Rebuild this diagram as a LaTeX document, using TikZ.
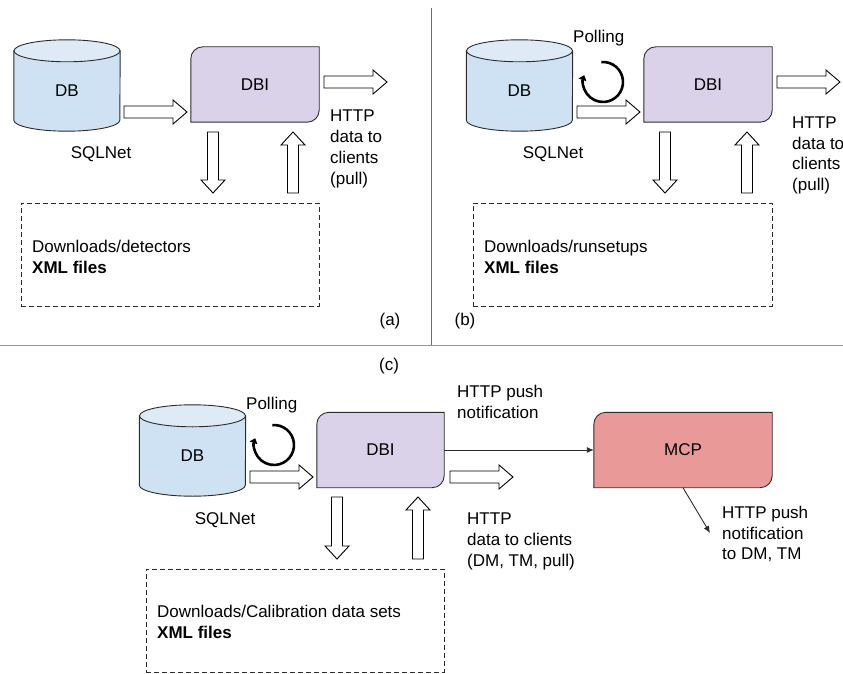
\documentclass[tikz,border=0pt]{standalone}
\usepackage{fontspec}
\setmainfont{Liberation Sans}
\usetikzlibrary{calc,backgrounds,arrows.meta}
\definecolor{cyltop}{HTML}{DEEBF7}
\definecolor{cylbody}{HTML}{CFE2F3}
\definecolor{dbifill}{HTML}{D9D2E9}
\definecolor{mcpfill}{HTML}{EA9999}
\definecolor{outl}{HTML}{2B2B2B}
\definecolor{vsep}{HTML}{5470A0}
\definecolor{hsep}{HTML}{7D9CCC}
\tikzset{
  txt/.style={font=\fontsize{17}{20.8}\selectfont, inner sep=0pt},
  blk/.style={txt, align=left, anchor=north west},
  cylnode/.style={txt, minimum width=106pt, minimum height=80pt},
  boxnode/.style={txt, minimum width=128pt, minimum height=75pt},
  dashbox/.style={draw=outl, line width=0.9pt, dash pattern=on 5pt off 3pt, inner sep=0pt, minimum height=103pt},
  fatarrow/.style={draw=black, fill=white, line width=0.9pt, line join=miter},
  thin/.style={draw=outl, line width=0.9pt, -{Latex[length=7pt,width=6pt]}},
  pollarrow/.style={draw=black, line width=2.6pt, -{Triangle[length=5pt,width=8pt]}},
}
\newcommand\cylshape[1]{%
  \begin{pgfonlayer}{background}
  \path[draw=outl, line width=0.9pt, fill=cylbody] (#1.north west) -- ($(#1.south west)+(0,-11)$)
     arc[start angle=180, end angle=0, x radius=53, y radius=11] -- (#1.north east) -- cycle;
  \path[draw=outl, line width=0.9pt, fill=cyltop] (#1.north) ellipse [x radius=53, y radius=11];
  \end{pgfonlayer}}
\newcommand\rbox[2]{%
  \begin{pgfonlayer}{background}
  \path[draw=outl, line width=0.9pt, fill=#2] (#1.south west) -- ($(#1.north west)+(0,12)$)
     .. controls ($(#1.north west)+(0,5.4)$) and ($(#1.north west)+(5.4,0)$) .. ($(#1.north west)+(12,0)$)
     -- (#1.north east) -- ($(#1.south east)+(0,-12)$)
     .. controls ($(#1.south east)+(0,-5.4)$) and ($(#1.south east)+(-5.4,0)$) .. ($(#1.south east)+(-12,0)$)
     -- cycle;
  \end{pgfonlayer}}
\newcommand\fatright[3]{%
  \draw[fatarrow] (#1,#3-6) -- (#2-14,#3-6) -- (#2-14,#3-12) -- (#2,#3) -- (#2-14,#3+12) -- (#2-14,#3+6) -- (#1,#3+6) -- cycle;}
\newcommand\fatdown[3]{%
  \draw[fatarrow] (#1-5.5,#2) -- (#1+5.5,#2) -- (#1+5.5,#3-13) -- (#1+12,#3-13) -- (#1,#3) -- (#1-12,#3-13) -- (#1-5.5,#3-13) -- cycle;}
\newcommand\fatup[3]{%
  \draw[fatarrow] (#1-5.5,#2) -- (#1+5.5,#2) -- (#1+5.5,#3+13) -- (#1+12,#3+13) -- (#1,#3) -- (#1-12,#3+13) -- (#1-5.5,#3+13) -- cycle;}
\begin{document}
\begin{tikzpicture}[x=1pt, y=1pt, yscale=-1]
\useasboundingbox (0,0) rectangle (843,674);

% separators
\draw[vsep, line width=1.2pt] (431.5,8) -- (431.5,345.5);
\draw[hsep, line width=1.2pt] (0,345.5) -- (843,345.5);

% ---------- (a)
\node[cylnode] (dbA) at (67,91) {DB};
\cylshape{dbA}
\node[boxnode] (dbiA) at (255,84.5) {DBI};
\rbox{dbiA}{dbifill}
\node[txt, anchor=base] (sqlA) at (101,158) {SQLNet};
\fatright{124}{187}{112}
\fatright{324}{387}{82}
\fatdown{213}{132}{193}
\fatup{293}{193}{132}
\node[blk] (httpA) at (330,109.8) {HTTP\\data to\\clients\\(pull)};
\node[dashbox, minimum width=298pt] (filesA) at (170,254.5) {};
\node[blk] (dlA) at (32,239.8) {Downloads/detectors\\\textbf{XML files}};
\node[txt, anchor=base] (labA) at (390,325) {(a)};

% ---------- (b)
\node[cylnode] (dbB) at (519.5,91) {DB};
\cylshape{dbB}
\node[boxnode] (dbiB) at (708,84.5) {DBI};
\rbox{dbiB}{dbifill}
\node[txt, anchor=base] (sqlB) at (553,158) {SQLNet};
\node[txt, anchor=base west] (pollB) at (573,43) {Polling};
\draw[pollarrow] (603,82) ++(265:20) arc[start angle=265, end angle=560, radius=20];
\fatright{577}{640}{112}
\fatright{777}{840}{82}
\fatdown{665}{132}{193}
\fatup{747}{193}{132}
\node[blk] (httpB) at (792,116.5) {HTTP\\data to\\clients\\(pull)};
\node[dashbox, minimum width=299pt] (filesB) at (622.5,254.5) {};
\node[blk] (dlB) at (484,239.8) {Downloads/runsetups\\\textbf{XML files}};
\node[txt, anchor=base] (labB) at (465,325) {(b)};

% ---------- (c)
\node[txt, anchor=base] (labC) at (389,370) {(c)};
\node[cylnode] (dbC) at (192.5,456) {DB};
\cylshape{dbC}
\node[boxnode, minimum width=127pt] (dbiC) at (380.5,450) {DBI};
\rbox{dbiC}{dbifill}
\node[boxnode, minimum width=178pt] (mcp) at (683,450) {MCP};
\rbox{mcp}{mcpfill}
\node[txt, anchor=base] (sqlC) at (225,524) {SQLNet};
\node[txt, anchor=base west] (pollC) at (246,409) {Polling};
\draw[pollarrow] (274,445) ++(265:20) arc[start angle=265, end angle=560, radius=20];
\fatright{250}{313}{477}
\fatright{450}{513}{477}
\fatdown{337}{497}{559}
\fatup{418}{559}{497}
\draw[thin] (dbiC.east) -- (mcp.west);
\coordinate (pushend) at (710,533);
\draw[thin] (mcp.south) -- (pushend);
\node[blk] (pushA) at (457,384.8) {HTTP push\\notification};
\node[blk] (httpC) at (467,512.8) {HTTP\\data to clients\\(DM, TM, pull)};
\node[blk] (pushB) at (722,505.8) {HTTP push\\notification\\to DM, TM};
\node[dashbox, minimum width=298pt] (filesC) at (295,620.5) {};
\node[blk] (dlC) at (157,604.8) {Downloads/Calibration data sets\\\textbf{XML files}};
\end{tikzpicture}
\end{document}
